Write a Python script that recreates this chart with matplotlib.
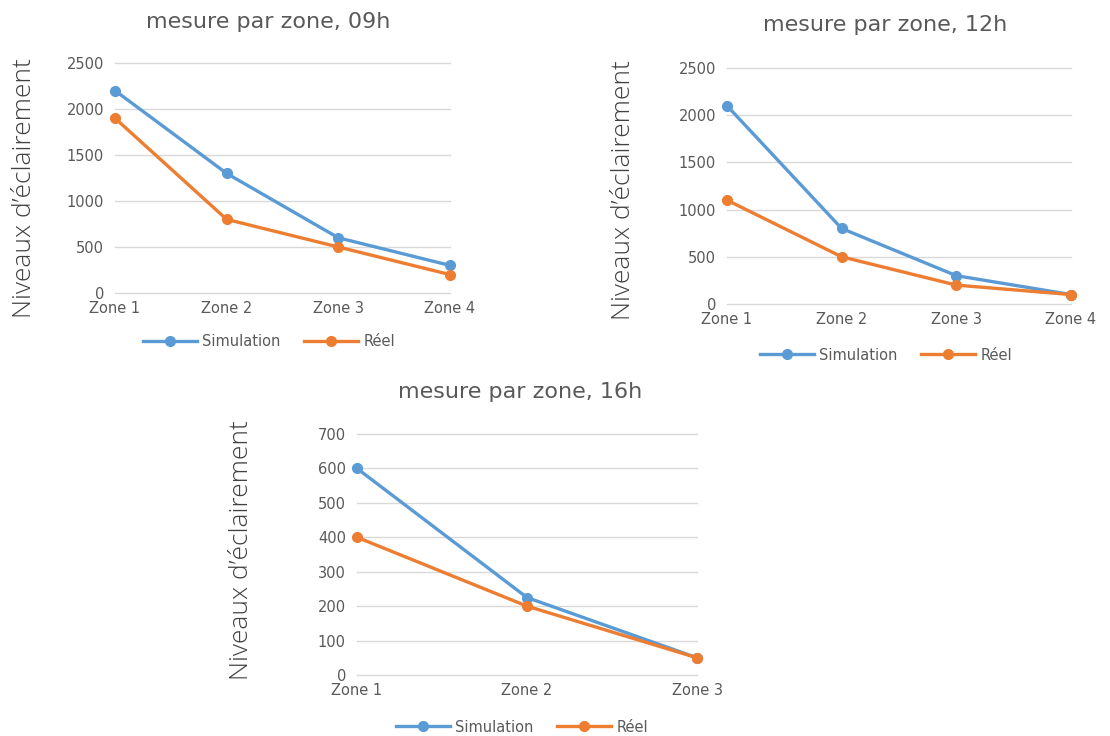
import matplotlib
matplotlib.use("Agg")
import matplotlib.pyplot as plt

plt.rcParams["font.family"] = ["DejaVu Sans"]

# Illuminance measured per zone at three times of day
zones_4 = ["Zone 1", "Zone 2", "Zone 3", "Zone 4"]
zones_3 = ["Zone 1", "Zone 2", "Zone 3"]

sim_09h = [2200, 1300, 600, 300]
reel_09h = [1900, 800, 500, 200]

sim_12h = [2100, 800, 300, 100]
reel_12h = [1100, 500, 200, 100]

sim_16h = [600, 225, 50]
reel_16h = [400, 200, 50]

yticks_big = [0, 500, 1000, 1500, 2000, 2500]
yticks_small = [0, 100, 200, 300, 400, 500, 600, 700]

titles = ["mesure par zone, 09h", "mesure par zone, 12h", "mesure par zone, 16h"]
ylabel = "Niveaux d’éclairement"
series_names = ["Simulation", "Réel"]

BLUE = "#5B9BD5"
ORANGE = "#ED7D31"
GRID = "#D9D9D9"
TXT = "#595959"

W, H = 1110, 736
fig = plt.figure(figsize=(W / 100, H / 100), dpi=100)


def px_axes(x0, x1, ytop, ybot):
    return fig.add_axes([x0 / W, 1 - ybot / H, (x1 - x0) / W, (ybot - ytop) / H])


def draw(ax, cats, sim, reel, yticks, title, title_xy, ylab_xy, leg_xy):
    x = list(range(len(cats)))
    l1, = ax.plot(x, sim, color=BLUE, lw=2.4, marker="o", ms=7,
                  clip_on=False, zorder=3, label=series_names[0])
    l2, = ax.plot(x, reel, color=ORANGE, lw=2.4, marker="o", ms=7,
                  clip_on=False, zorder=4, label=series_names[1])
    ax.set_xlim(0, len(cats) - 1)
    ax.set_ylim(yticks[0], yticks[-1])
    ax.set_yticks(yticks)
    ax.set_xticks(x)
    ax.set_xticklabels(cats)
    ax.yaxis.grid(True, color=GRID, lw=1.0)
    for gl in ax.get_ygridlines():
        gl.set_clip_on(False)
    ax.set_axisbelow(True)
    for s in ax.spines.values():
        s.set_visible(False)
    ax.tick_params(axis="both", length=0, colors=TXT, labelsize=10.5)
    ax.tick_params(axis="y", pad=8)
    ax.tick_params(axis="x", pad=6)
    fig.text(title_xy[0] / W, 1 - title_xy[1] / H, title, ha="center", va="center",
             fontsize=16, color=TXT, family="DejaVu Sans")
    fig.text(ylab_xy[0] / W, 1 - ylab_xy[1] / H, ylabel, ha="center", va="center",
             rotation=90, fontsize=19, color="#404040", family="Open Sans",
             fontweight="light")
    fig.legend(handles=[l1, l2], loc="center", ncol=2,
               bbox_to_anchor=(leg_xy[0] / W, 1 - leg_xy[1] / H),
               frameon=False, fontsize=10.5, labelcolor=TXT,
               handlelength=3.7, handletextpad=0.4, columnspacing=1.6)


ax1 = px_axes(115, 450, 63, 293)
draw(ax1, zones_4, sim_09h, reel_09h, yticks_big, titles[0],
     (268, 22), (25, 188), (269, 342))

ax2 = px_axes(727, 1071, 68, 304)
draw(ax2, zones_4, sim_12h, reel_12h, yticks_big, titles[1],
     (885, 25), (624, 190), (886, 355))

ax3 = px_axes(357, 697, 434, 675)
draw(ax3, zones_3, sim_16h, reel_16h, yticks_small, titles[2],
     (520, 392), (242, 550), (522, 727))

fig.savefig("out.png", dpi=100, facecolor="white")
